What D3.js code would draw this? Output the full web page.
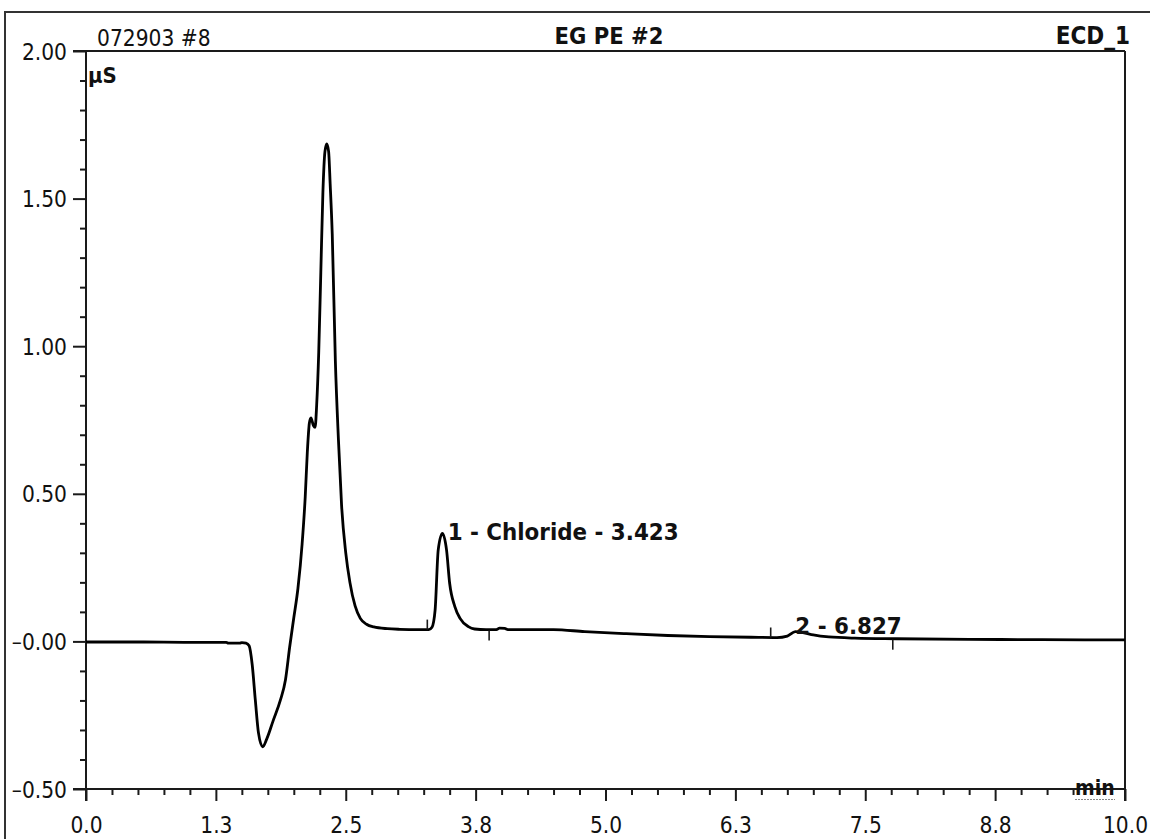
<!DOCTYPE html>
<html><head><meta charset="utf-8">
<script src="https://cdn.jsdelivr.net/npm/d3@7"></script>
<style>
html,body{margin:0;padding:0;background:#fff;}
text{font-family:"DejaVu Sans Condensed","DejaVu Sans",sans-serif;font-stretch:condensed;fill:#111;}
</style></head>
<body><svg id="c" width="1150" height="839"></svg>
<script>
// ---- data ----
const timeMin = [0.00,0.50,1.00,1.35,1.37,1.48,1.50,1.54,1.57,1.60,1.63,1.66,1.70,1.74,1.80,1.87,1.92,1.96,2.00,2.04,2.08,2.11,2.13,2.15,2.165,2.19,2.205,2.22,2.24,2.26,2.28,2.30,2.317,2.335,2.35,2.37,2.40,2.43,2.46,2.50,2.54,2.59,2.64,2.70,2.77,2.90,3.02,3.20,3.30,3.33,3.36,3.39,3.43,3.47,3.50,3.55,3.60,3.68,3.74,3.85,3.95,3.98,4.03,4.06,4.30,4.50,4.80,5.20,5.60,6.00,6.40,6.65,6.75,6.827,6.90,7.00,7.15,7.40,7.80,8.50,9.20,10.0];
const signalUS = [-0.002,-0.002,-0.003,-0.003,-0.006,-0.006,-0.004,-0.006,-0.015,-0.08,-0.20,-0.31,-0.357,-0.33,-0.27,-0.20,-0.13,-0.02,0.08,0.18,0.33,0.49,0.64,0.74,0.757,0.73,0.725,0.80,0.98,1.25,1.52,1.66,1.685,1.66,1.55,1.38,0.95,0.68,0.46,0.30,0.20,0.12,0.078,0.058,0.049,0.043,0.041,0.040,0.040,0.048,0.106,0.31,0.366,0.31,0.197,0.118,0.078,0.05,0.042,0.040,0.040,0.045,0.044,0.040,0.040,0.040,0.033,0.026,0.020,0.016,0.014,0.013,0.018,0.033,0.030,0.022,0.015,0.011,0.009,0.007,0.006,0.005];
const peakLabels = ["1 - Chloride - 3.423","2 - 6.827"];
const peakApex = [3.423,6.827];
const peakStart = [3.285,6.59];
const peakEnd = [3.88,7.765];
const xMajorTicks = [0,1.25,2.5,3.75,5,6.25,7.5,8.75,10];
const xTickLabels = ["0.0","1.3","2.5","3.8","5.0","6.3","7.5","8.8","10.0"];
const yMajorTicks = [-0.5,0,0.5,1,1.5,2];
const yTickLabels = ["–0.50","–0.00","0.50","1.00","1.50","2.00"];
const titleLeft = "072903 #8", titleMid = "EG PE #2", titleRight = "ECD_1";
const yUnit = "µS", xUnit = "min";

// ---- layout ----
const svg = d3.select("#c");
const L=86,R=1125,T=51,B=789;
const x = d3.scaleLinear().domain([0,10]).range([L,R]);
const y = d3.scaleLinear().domain([-0.5,2.0]).range([B,T]);
const ink="#1a1a1a";

svg.append("rect").attr("width",1150).attr("height",839).attr("fill","#fff");
// outer frame
svg.append("path").attr("d","M5,839V12H1150").attr("fill","none").attr("stroke","#333").attr("stroke-width",2);

// minor ticks
const xMinor = d3.range(0,10.001,0.25).filter(v=>Math.abs(v/1.25-Math.round(v/1.25))>1e-6);
const yMinor = d3.range(-0.5,2.0001,0.1).map(v=>+v.toFixed(2)).filter(v=>Math.abs(v*2-Math.round(v*2))>1e-6);

const gxm = svg.append("g").attr("transform",`translate(0,${B})`)
  .call(d3.axisBottom(x).tickValues(xMinor).tickSize(6).tickFormat(""));
const gym = svg.append("g").attr("transform",`translate(${L},0)`)
  .call(d3.axisLeft(y).tickValues(yMinor).tickSize(6).tickFormat(""));
const gx = svg.append("g").attr("transform",`translate(0,${B})`)
  .call(d3.axisBottom(x).tickValues(xMajorTicks).tickSize(12).tickSizeOuter(0).tickPadding(16)
    .tickFormat((d,i)=>xTickLabels[i]));
const gy = svg.append("g").attr("transform",`translate(${L},0)`)
  .call(d3.axisLeft(y).tickValues(yMajorTicks).tickSize(13).tickSizeOuter(0).tickPadding(6)
    .tickFormat((d,i)=>yTickLabels[i]));
[gxm,gym,gx,gy].forEach(g=>{
  g.select(".domain").remove();
  g.selectAll("line").attr("stroke",ink).attr("stroke-width",2);
});
gx.selectAll("text").attr("font-size",22.5).attr("fill","#111").attr("font-family",null);
gy.selectAll("text").attr("font-size",22.5).attr("fill","#111").attr("font-family",null).attr("dy","0.36em");

// axis lines / plot frame
const frame = svg.append("g").attr("stroke",ink).attr("stroke-width",2).attr("fill","none");
frame.append("line").attr("x1",L-13).attr("x2",R).attr("y1",T).attr("y2",T);
frame.append("line").attr("x1",L-13).attr("x2",R).attr("y1",B).attr("y2",B);
frame.append("line").attr("x1",L).attr("x2",L).attr("y1",T).attr("y2",B+12);
frame.append("line").attr("x1",R).attr("x2",R).attr("y1",T).attr("y2",B+12);

// trace
const pts = timeMin.map((t,i)=>[t,signalUS[i]]);
const line = d3.line().x(d=>x(d[0])).y(d=>y(d[1])).curve(d3.curveMonotoneX);
svg.append("path").datum(pts).attr("d",line).attr("fill","none").attr("stroke","#000").attr("stroke-width",2.8).attr("stroke-linejoin","round");

// baseline value at time
const interp = t=>{ const i=d3.bisectLeft(timeMin,t); if(i<=0) return signalUS[0];
  const t0=timeMin[i-1],t1=timeMin[i]; return signalUS[i-1]+(signalUS[i]-signalUS[i-1])*(t-t0)/(t1-t0);};

// peak delimiters
peakStart.forEach(t=>{ const yy=y(interp(t));
  svg.append("line").attr("x1",x(t)).attr("x2",x(t)).attr("y1",yy-10).attr("y2",yy).attr("stroke",ink).attr("stroke-width",1.6);});
peakEnd.forEach(t=>{ const yy=y(interp(t));
  svg.append("line").attr("x1",x(t)).attr("x2",x(t)).attr("y1",yy+1).attr("y2",yy+11).attr("stroke",ink).attr("stroke-width",1.6);});

// peak labels
const labDx=[6,0], labDy=[4,2];
peakLabels.forEach((s,i)=>{
  svg.append("text").attr("x",x(peakApex[i])+labDx[i]).attr("y",y(interp(peakApex[i]))+labDy[i])
    .attr("font-size",23.8).attr("font-weight","bold").text(s);
});

// header
svg.append("text").attr("x",97).attr("y",46).attr("font-size",22.5).text(titleLeft);
svg.append("text").attr("x",609).attr("y",44).attr("font-size",23.5).attr("font-weight","bold").attr("text-anchor","middle").text(titleMid);
svg.append("text").attr("x",1130).attr("y",44).attr("font-size",24).attr("font-weight","bold").attr("text-anchor","end").text(titleRight);
// units
svg.append("text").attr("x",88).attr("y",83).attr("font-size",22).attr("font-weight","bold").text(yUnit);
svg.append("text").attr("x",1075).attr("y",795).attr("font-size",21).attr("font-weight","bold").text(xUnit);
svg.append("line").attr("x1",1075).attr("x2",1115).attr("y1",799.5).attr("y2",799.5).attr("stroke","#888").attr("stroke-width",1).attr("stroke-dasharray","2,1");
</script></body></html>
